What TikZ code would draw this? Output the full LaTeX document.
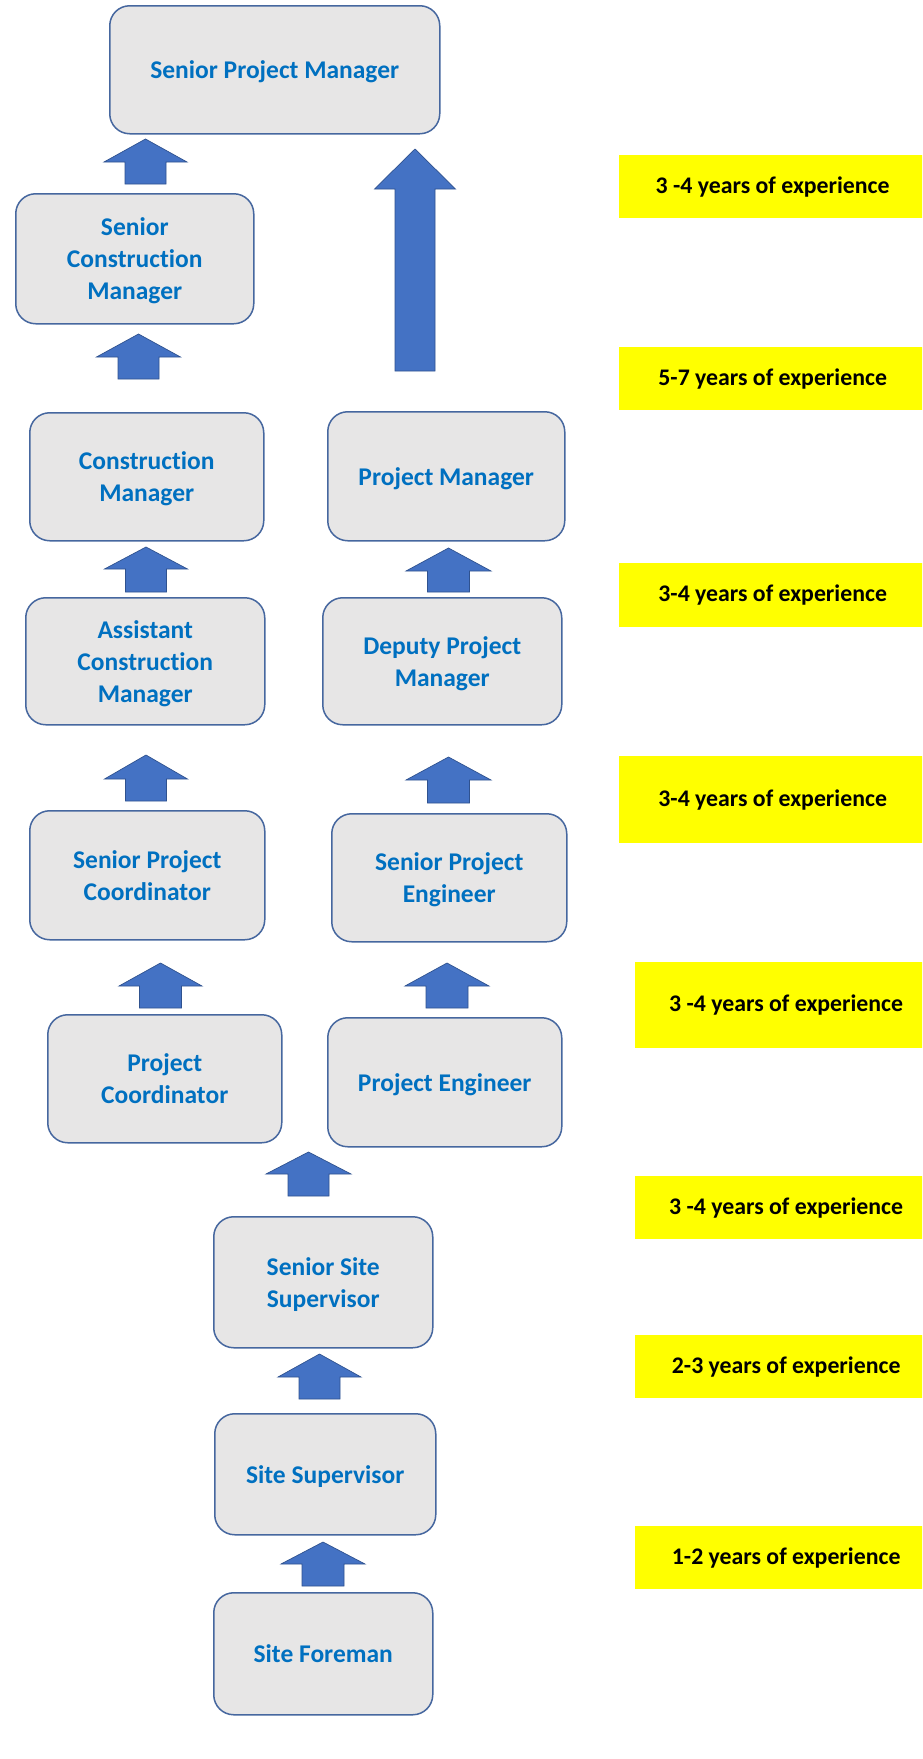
\documentclass[tikz,border=0pt]{standalone}
\usepackage{fontspec}
\setmainfont{Carlito}[Ligatures={NoCommon}]
\definecolor{boxfill}{HTML}{E7E6E6}
\definecolor{boxedge}{HTML}{46679F}
\definecolor{txtblue}{HTML}{0070C0}
\definecolor{arrblue}{HTML}{4472C4}
\definecolor{arredge}{HTML}{2F528F}
\definecolor{hilite}{HTML}{FFFF00}
\tikzset{
  role/.style={draw=boxedge, line width=1.5pt, fill=boxfill, rounded corners=20pt,
    text=txtblue, font=\fontsize{25.5}{32}\selectfont\bfseries, align=center,
    inner sep=0pt, text depth=0pt, anchor=north west},
  yearbox/.style={fill=hilite, draw=none, text=black,
    font=\fontsize{23.8}{28}\selectfont\bfseries, inner sep=0pt, anchor=north west},
  barrow/.style={fill=arrblue, draw=arredge, line width=0.7pt, line join=miter}
}
% block arrow: centre x, tip y, head base y, bottom y, head half width, shaft half width
\newcommand\blockup[6]{%
  \draw[barrow] (#1-#6,#4) -- (#1-#6,#3) -- (#1-#5,#3) -- (#1,#2) -- (#1+#5,#3)
    -- (#1+#6,#3) -- (#1+#6,#4) -- cycle;}
\begin{document}
\begin{tikzpicture}[x=1pt,y=-1pt]
\useasboundingbox (0,0) rectangle (922,1759);
\fill[white] (0,0) rectangle (922,1759);
\clip (0,0) rectangle (922,1759);

% role boxes (top-left corner, size)
\node[role, minimum width=330pt, minimum height=128pt] (spm) at (109,5) {Senior Project Manager};
\node[role, minimum width=238pt, minimum height=130pt] (scm) at (15,193) {Senior\\Construction\\Manager};
\node[role, minimum width=234pt, minimum height=128pt] (cm) at (29,412) {Construction\\Manager};
\node[role, minimum width=237pt, minimum height=129pt] (pm) at (327,411) {Project Manager};
\node[role, minimum width=239pt, minimum height=127pt] (acm) at (25,597) {Assistant\\Construction\\Manager};
\node[role, minimum width=239pt, minimum height=127pt] (dpm) at (322,597) {Deputy Project\\Manager};
\node[role, minimum width=235pt, minimum height=129pt] (spc) at (29,810) {Senior Project\\Coordinator};
\node[role, minimum width=235pt, minimum height=128pt] (spe) at (331,813) {Senior Project\\Engineer};
\node[role, minimum width=234pt, minimum height=128pt] (pc) at (47,1014) {Project\\Coordinator};
\node[role, minimum width=234pt, minimum height=129pt] (pe) at (327,1017) {Project Engineer};
\node[role, minimum width=219pt, minimum height=131pt] (sss) at (213,1216) {Senior Site\\Supervisor};
\node[role, minimum width=221pt, minimum height=121pt] (ss) at (214,1413) {Site Supervisor};
\node[role, minimum width=219pt, minimum height=122pt] (sf) at (213,1592) {Site Foreman};

% block arrows
\blockup{145.5}{139}{162}{184}{41.5}{20.5}
\blockup{415}{149}{189}{371}{40.5}{20}
\blockup{138.5}{334}{357}{379}{42}{20.5}
\blockup{146}{547}{569}{592}{41.5}{20.5}
\blockup{448.5}{548}{571}{592}{42.5}{21}
\blockup{146}{755}{779}{801}{41.5}{20.5}
\blockup{448.5}{757}{780}{803}{42.5}{21}
\blockup{160.5}{963}{986}{1008}{41.5}{21}
\blockup{447}{963}{986}{1008}{42}{21}
\blockup{308.5}{1152}{1174}{1196}{42.5}{20.5}
\blockup{319.5}{1354}{1377}{1399}{41.5}{20.5}
\blockup{323}{1542}{1564}{1586}{42}{21}

% experience labels
\node[yearbox, minimum width=307pt, minimum height=63pt] (y1) at (619,155) {3 -4 years of experience};
\node[yearbox, minimum width=307pt, minimum height=63pt] (y2) at (619,347) {5-7 years of experience};
\node[yearbox, minimum width=307pt, minimum height=64pt] (y3) at (619,563) {3-4 years of experience};
\node[yearbox, minimum width=307pt, minimum height=87pt] (y4) at (619,756) {3-4 years of experience};
\node[yearbox, minimum width=302pt, minimum height=86pt] (y5) at (635,962) {3 -4 years of experience};
\node[yearbox, minimum width=302pt, minimum height=63pt] (y6) at (635,1176) {3 -4 years of experience};
\node[yearbox, minimum width=302pt, minimum height=63pt] (y7) at (635,1335) {2-3 years of experience};
\node[yearbox, minimum width=302pt, minimum height=63pt] (y8) at (635,1526) {1-2 years of experience};
\end{tikzpicture}
\end{document}
